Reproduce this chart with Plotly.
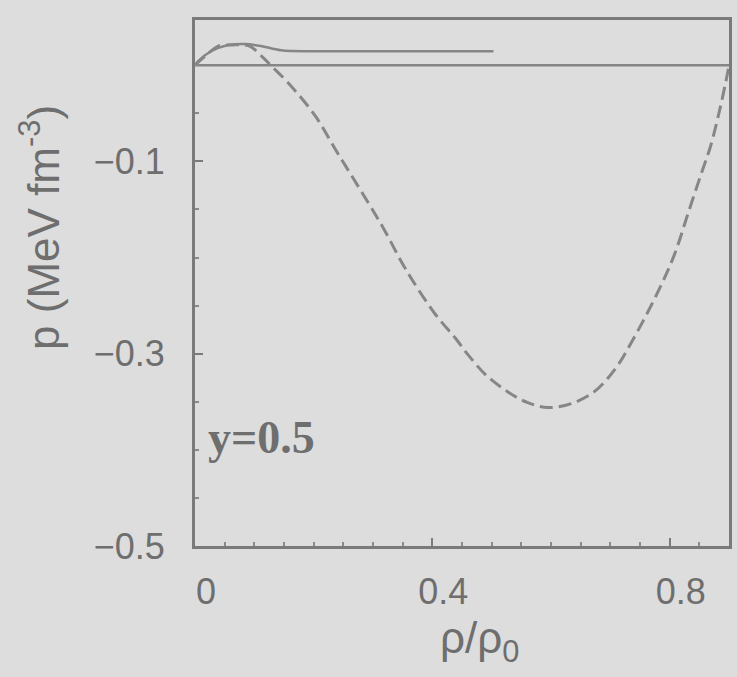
import plotly.graph_objects as go

# Dashed curve (rho/rho0, pressure in MeV fm^-3)
dashed_x = [0.0, 0.018, 0.040, 0.062, 0.091, 0.113, 0.129, 0.158, 0.203, 0.237, 0.264,
            0.292, 0.318, 0.355, 0.405, 0.439, 0.460, 0.490, 0.528, 0.561, 0.595,
            0.634, 0.674, 0.708, 0.734, 0.780, 0.808, 0.830, 0.852, 0.869, 0.886,
            0.897, 0.900]
dashed_y = [0.0, 0.010, 0.020, 0.021, 0.020, 0.009, -0.001, -0.019, -0.053, -0.088, -0.115,
            -0.143, -0.170, -0.212, -0.259, -0.284, -0.301, -0.322, -0.340, -0.351, -0.356,
            -0.352, -0.339, -0.316, -0.290, -0.236, -0.197, -0.156, -0.115, -0.084, -0.042,
            -0.010, 0.0]

# Solid curve
solid_x = [0.0, 0.005, 0.027, 0.056, 0.084, 0.111, 0.145, 0.203, 0.342, 0.503]
solid_y = [0.0, 0.004, 0.0145, 0.021, 0.022, 0.020, 0.0155, 0.0145, 0.0145, 0.0145]

# Zero reference line
zero_x = [0.0, 0.9]
zero_y = [0.0, 0.0]

x_ticks = [0, 0.4, 0.8]
x_labels = ["0", "0.4", "0.8"]
y_ticks = [-0.1, -0.3, -0.5]
y_labels = ["\u22120.1", "\u22120.3", "\u22120.5"]

line_col = "#868686"
text_col = "#6e6e6e"
bg = "#dddddd"

fig = go.Figure()
fig.add_trace(go.Scatter(x=zero_x, y=zero_y, mode="lines",
                         line=dict(color=line_col, width=2.5), showlegend=False))
fig.add_trace(go.Scatter(x=solid_x, y=solid_y, mode="lines", line_shape="spline",
                         line=dict(color=line_col, width=2.5), showlegend=False))
fig.add_trace(go.Scatter(x=dashed_x, y=dashed_y, mode="lines", line_shape="spline",
                         line=dict(color=line_col, width=3, dash="13px,6px"), showlegend=False))

axis_common = dict(
    showgrid=False, zeroline=False, showline=True, linecolor="#7a7a7a", linewidth=3,
    mirror=True, ticks="inside", tickcolor="#7a7a7a", ticklen=8, tickwidth=1.5,
    tickfont=dict(family="Liberation Sans, Arial", size=36, color=text_col),
)

fig.update_xaxes(range=[0, 0.9], tickvals=x_ticks, ticktext=x_labels,
                 minor=dict(dtick=0.05, tick0=0, ticks="inside", ticklen=4, tickcolor="#8a8a8a"),
                 ticklabelstandoff=12, ticklabelshift=11, **axis_common)
fig.update_yaxes(range=[-0.5, 0.047], tickvals=y_ticks, ticktext=y_labels,
                 minor=dict(dtick=0.05, tick0=0, ticks="inside", ticklen=4, tickcolor="#8a8a8a"),
                 ticklabelstandoff=20, **axis_common)

fig.add_annotation(text="p (MeV fm<sup>-3</sup>)", xref="paper", yref="paper",
                   x=-0.29, y=0.605, textangle=-90, showarrow=False,
                   xanchor="center", yanchor="middle",
                   font=dict(family="Liberation Sans, Arial", size=44, color=text_col))
fig.add_annotation(text="ρ/ρ<sub>0</sub>", xref="paper", yref="paper",
                   x=0.533, y=-0.181, showarrow=False, xanchor="center", yanchor="middle",
                   font=dict(family="Liberation Sans, Arial", size=44, color=text_col))
fig.add_annotation(text="<b>y=0.5</b>", xref="paper", yref="paper",
                   x=0.02, y=0.207, showarrow=False, xanchor="left", yanchor="middle",
                   font=dict(family="Liberation Serif, Times New Roman", size=46, color=text_col))

fig.update_layout(width=737, height=677, margin=dict(l=195, r=5, t=20, b=131),
                  paper_bgcolor=bg, plot_bgcolor=bg)

fig.write_html("out.html", config={"displayModeBar": False},
               post_script="document.body.style.margin='0';document.body.style.background='#dddddd';")
